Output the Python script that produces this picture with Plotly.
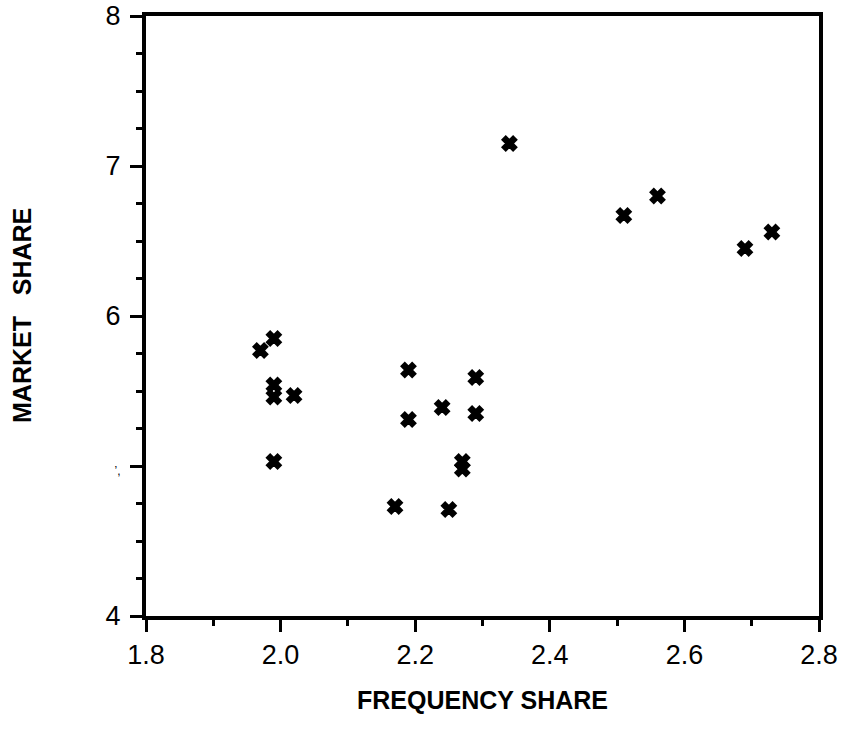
import plotly.graph_objects as go

# Data
frequency_share = [2.34, 2.51, 2.56, 2.69, 2.73,
                   1.97, 1.99, 1.99, 1.99, 2.02, 1.99,
                   2.19, 2.29, 2.24, 2.29, 2.19, 2.27, 2.27, 2.17, 2.25]
market_share = [7.15, 6.67, 6.80, 6.45, 6.56,
                5.77, 5.85, 5.54, 5.46, 5.47, 5.03,
                5.64, 5.59, 5.39, 5.35, 5.31, 5.03, 4.98, 4.73, 4.71]

x_tickvals = [1.8, 2.0, 2.2, 2.4, 2.6, 2.8]
x_ticktext = ["1.8", "2.0", "2.2", "2.4", "2.6", "2.8"]
y_tickvals = [4, 5, 6, 7, 8]
y_ticktext = ["4", "<span style='font-size:12px'>\u2019,</span>", "6", "7", "8"]

x_title = "FREQUENCY SHARE"
y_title = "MARKET\u00a0\u00a0 SHARE"

FONT = "Liberation Sans, Arial, Helvetica, sans-serif"

fig = go.Figure()
fig.add_trace(go.Scatter(
    x=frequency_share, y=market_share, mode="markers",
    marker=dict(symbol="x", size=13, color="black",
                line=dict(width=1.5, color="black")),
    showlegend=False, cliponaxis=False,
))

fig.update_layout(
    width=847, height=730,
    margin=dict(l=146, r=28, t=16, b=114),
    paper_bgcolor="white", plot_bgcolor="white",
    font=dict(family=FONT, color="black", size=27),
    xaxis=dict(
        range=[1.8, 2.8], tickvals=x_tickvals, ticktext=x_ticktext,
        showgrid=False, zeroline=False, automargin=False,
        showline=True, linecolor="black", linewidth=4, mirror=True,
        ticks="outside", ticklen=12, tickwidth=3, tickcolor="black",
        minor=dict(dtick=0.1, ticks="outside", ticklen=6, tickwidth=3,
                   tickcolor="black", showgrid=False),
        tickfont=dict(size=27, family=FONT),
        ticklabelstandoff=0,
    ),
    yaxis=dict(
        range=[4, 8], tickvals=y_tickvals, ticktext=y_ticktext,
        showgrid=False, zeroline=False, automargin=False,
        showline=True, linecolor="black", linewidth=4, mirror=True,
        ticks="outside", ticklen=12, tickwidth=3, tickcolor="black",
        minor=dict(dtick=0.25, ticks="outside", ticklen=6, tickwidth=3,
                   tickcolor="black", showgrid=False),
        tickfont=dict(size=27, family=FONT),
        ticklabelstandoff=4,
    ),
    annotations=[
        dict(text="<b>" + x_title + "</b>", xref="paper", yref="paper",
             x=0.5, y=0, yshift=-84, showarrow=False, yanchor="middle",
             font=dict(size=25, family=FONT)),
        dict(text="<b>" + y_title + "</b>", xref="paper", yref="paper",
             x=0, xshift=-124, y=0.5, showarrow=False, textangle=-90,
             xanchor="center", font=dict(size=25, family=FONT)),
    ],
)

fig.write_html("out.html")
